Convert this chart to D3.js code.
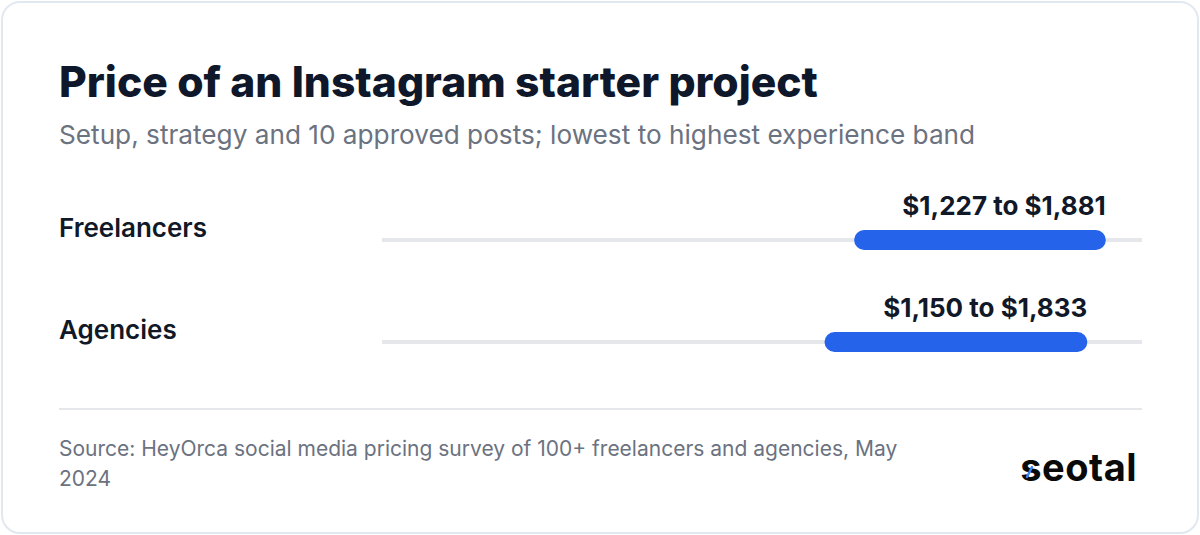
<!DOCTYPE html>
<html><head><meta charset="utf-8">
<script src="https://cdn.jsdelivr.net/npm/d3@7"></script>
<style>
html,body{margin:0;padding:0;background:#fff;}
svg{display:block;font-family:Inter,"Noto Sans",sans-serif;}
</style></head>
<body><svg id="c" width="1200" height="535"></svg>
<script>
const categories = ["Freelancers", "Agencies"];
const lowValues = [1227, 1150];
const highValues = [1881, 1833];
const valueLabels = ["$1,227 to $1,881", "$1,150 to $1,833"];
const titleText = "Price of an Instagram starter project";
const subtitleText = "Setup, strategy and 10 approved posts; lowest to highest experience band";
const sourceText = "Source: HeyOrca social media pricing survey of 100+ freelancers and agencies, May 2024";

const svg = d3.select("#c");
svg.append("rect").attr("x",2).attr("y",2).attr("width",1196).attr("height",531)
  .attr("rx",18).attr("fill","#fff").attr("stroke","#e2e8f0").attr("stroke-width",2);

svg.append("text").attr("x",59).attr("y",97).text(titleText)
  .attr("font-size",42.6).attr("font-weight",800).attr("fill","#0f172a");
svg.append("text").attr("x",59).attr("y",144).text(subtitleText)
  .attr("font-size",26.2).attr("font-weight",400).attr("fill","#6b7280");

const x = d3.scaleLinear().domain([0, d3.max(highValues)*1.05]).range([382, 1142]);
const y = d3.scaleBand().domain(categories).range([189, 393]).paddingInner(0);

const rows = svg.selectAll("g.row").data(categories).join("g").attr("class","row")
  .attr("transform", d => `translate(0,${y(d)})`);
const trackY = 51;
rows.append("text").attr("x",59).attr("y",48).text(d=>d)
  .attr("font-size",26).attr("font-weight",600).attr("fill","#111827");
rows.append("line").attr("x1",x.range()[0]).attr("x2",x.range()[1]).attr("y1",trackY).attr("y2",trackY)
  .attr("stroke","#e5e7eb").attr("stroke-width",4);
rows.append("rect")
  .attr("x",(d,i)=>x(lowValues[i])).attr("width",(d,i)=>x(highValues[i])-x(lowValues[i]))
  .attr("y",trackY-10).attr("height",20).attr("rx",10).attr("fill","#2563eb");
rows.append("text").attr("x",(d,i)=>x(highValues[i])).attr("y",26).attr("text-anchor","end")
  .text((d,i)=>valueLabels[i]).attr("font-size",26).attr("font-weight",700).attr("fill","#111827");

svg.append("line").attr("x1",59).attr("x2",1142).attr("y1",409).attr("y2",409)
  .attr("stroke","#e5e7eb").attr("stroke-width",2);

// wrap source text
const src = svg.append("text").attr("x",59).attr("y",456).attr("font-size",21).attr("fill","#6b7280");
const words = sourceText.split(" ");
let line = [];
let tspan = src.append("tspan").attr("x",59).attr("dy",0);
for (const w of words) {
  line.push(w);
  tspan.text(line.join(" "));
  if (tspan.node().getComputedTextLength() > 860 && line.length > 1) {
    line.pop(); tspan.text(line.join(" "));
    line = [w];
    tspan = src.append("tspan").attr("x",59).attr("dy",30).text(w);
  }
}

const logo = svg.append("g");
logo.append("text").attr("x",1137).attr("y",481).attr("text-anchor","end").text("seotal")
  .attr("font-size",38).attr("font-weight",700).attr("fill","#0a0a0a").attr("letter-spacing",0.5);
logo.append("line").attr("x1",1027).attr("y1",477).attr("x2",1032).attr("y2",467)
  .attr("stroke","#3b82f6").attr("stroke-width",2.5).attr("stroke-linecap","round");
</script></body></html>
